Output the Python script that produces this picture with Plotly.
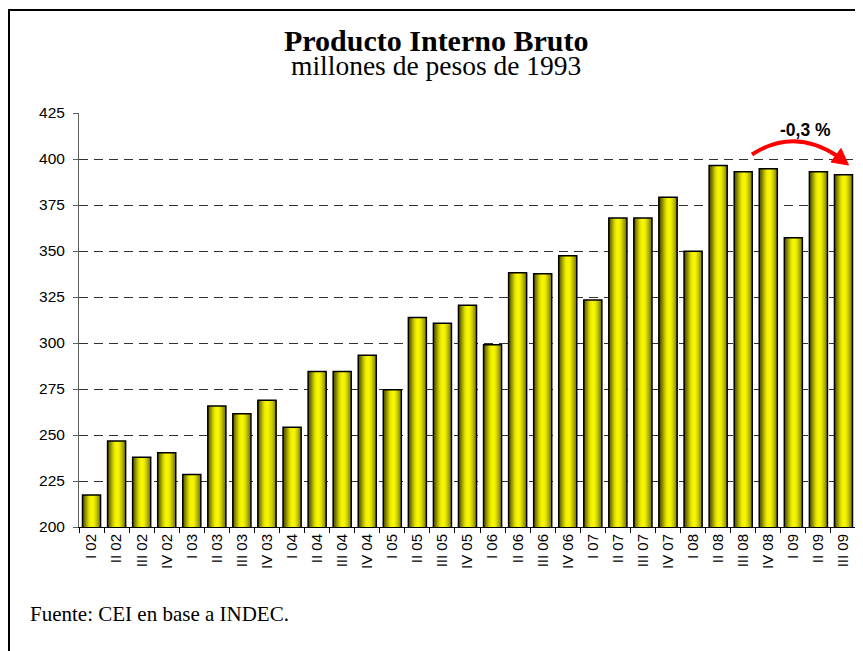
import plotly.graph_objects as go

# ---- data ----
quarters = ["I 02", "II 02", "III 02", "IV 02",
            "I 03", "II 03", "III 03", "IV 03",
            "I 04", "II 04", "III 04", "IV 04",
            "I 05", "II 05", "III 05", "IV 05",
            "I 06", "II 06", "III 06", "IV 06",
            "I 07", "II 07", "III 07", "IV 07",
            "I 08", "II 08", "III 08", "IV 08",
            "I 09", "II 09", "III 09"]
pib = [217.4, 246.7, 237.9, 240.4,
       228.6, 265.8, 261.6, 268.9,
       254.2, 284.5, 284.5, 293.3,
       274.6, 313.8, 310.7, 320.5,
       299.1, 338.2, 337.7, 347.4,
       323.4, 367.9, 367.9, 379.2,
       349.8, 396.4, 393.1, 394.7,
       357.2, 393.1, 391.5]
y_ticks = [200, 225, 250, 275, 300, 325, 350, 375, 400, 425]
title_text = "Producto Interno Bruto"
subtitle_text = "millones de pesos de 1993"
source_text = "Fuente: CEI en base a INDEC."
change_text = "<b>-0,3 %</b>"

# ---- layout geometry (page has an 8px body margin) ----
OFF = 8
W, H = 863 - OFF, 651 - OFF
ML, MR, MT, MB = 71, 7, 105, 124
PW, PH = W - ML - MR, H - MT - MB


def px(sx):
    return (sx - OFF - ML) / PW


def py(sy):
    return (H - MB - (sy - OFF)) / PH


fig = go.Figure()

# cylinder-like shading made of thin overlaid bars
bar_w = 0.72
shade = [0.34, 0.40, 0.48, 0.58, 0.68, 0.78, 0.87, 0.94, 0.98,
         1.00, 1.00, 0.98, 0.94, 0.88, 0.80, 0.72, 0.64, 0.56]
n = len(shade)
strip = bar_w / n
fig.add_trace(go.Bar(x=quarters, y=pib, width=bar_w, offset=-bar_w / 2,
                     marker=dict(color="rgb(90,90,0)", line=dict(width=0)),
                     hoverinfo="skip", showlegend=False))
for k, b in enumerate(shade):
    c = f"rgb({int(245*b)},{int(245*b)},0)"
    fig.add_trace(go.Bar(x=quarters, y=pib, width=strip * 1.15,
                         offset=-bar_w / 2 + k * strip,
                         marker=dict(color=c, line=dict(width=0)),
                         hoverinfo="skip", showlegend=False))
fig.add_trace(go.Bar(x=quarters, y=pib, width=bar_w, offset=-bar_w / 2,
                     marker=dict(color="rgba(0,0,0,0)",
                                 line=dict(color="black", width=1.5)),
                     hovertemplate="%{x}: %{y}<extra></extra>",
                     showlegend=False))

fig.update_layout(
    width=W, height=H,
    margin=dict(l=ML, r=MR, t=MT, b=MB),
    barmode="overlay",
    paper_bgcolor="white", plot_bgcolor="white",
    showlegend=False,
    font=dict(family="Liberation Sans, Arial", size=15, color="black"),
)
fig.update_xaxes(
    type="category", tickangle=-90, tickson="boundaries",
    ticks="outside", ticklen=5, tickcolor="black",
    showline=True, linecolor="black", linewidth=1,
    showgrid=False, tickfont=dict(size=15),
)
fig.update_yaxes(
    range=[200, 425], tickvals=y_ticks, ticks="outside", ticklen=5,
    tickcolor="#606060", showline=True, linecolor="#606060", linewidth=1,
    showgrid=True, gridcolor="#303030", gridwidth=1, griddash="9px,6px",
    zeroline=False, tickfont=dict(size=15.5), ticklabelstandoff=5,
)

serif = "Liberation Serif, Times New Roman, serif"
# title + subtitle as one two-line text (line spacing = 1.3 x base size)
fig.add_annotation(
    text=(f"<span style='font-size:30px'><b>{title_text}</b></span><br>"
          f"<span style='font-size:27.5px'>{subtitle_text}</span>"),
    xref="paper", yref="paper", x=px(436), y=py(22),
    xanchor="center", yanchor="top", align="center", showarrow=False,
    font=dict(family=serif, size=18.5, color="black"))
fig.add_annotation(text=source_text, xref="paper", yref="paper",
                   x=px(28), y=py(614), xanchor="left", yanchor="middle",
                   showarrow=False, font=dict(family=serif, size=21, color="black"))
fig.add_annotation(text=change_text, xref="paper", yref="paper",
                   x=px(805), y=py(130), xanchor="center", yanchor="middle",
                   showarrow=False,
                   font=dict(family="Liberation Sans, Arial", size=17.5, color="black"))

# outer frame
fig.add_shape(type="rect", xref="paper", yref="paper",
              x0=px(9), x1=px(900), y0=py(700), y1=py(10),
              line=dict(color="black", width=2), fillcolor="rgba(0,0,0,0)")
# red curved arrow
fig.add_shape(type="path", xref="paper", yref="paper",
              path=f"M {px(752)},{py(154.5)} Q {px(794.5)},{py(127)} {px(838)},{py(156.5)}",
              line=dict(color="red", width=4))
fig.add_shape(type="path", xref="paper", yref="paper",
              path=(f"M {px(841)},{py(148.5)} L {px(848.5)},{py(165)} "
                    f"L {px(831)},{py(162)} Z"),
              line=dict(color="red", width=1), fillcolor="red")

fig.write_html("out.html")
